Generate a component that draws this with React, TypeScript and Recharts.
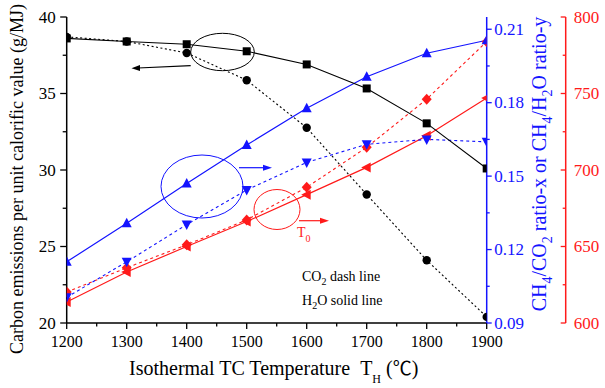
import { ComposedChart, Line, XAxis, YAxis } from "recharts";

const temps = [1200, 1300, 1400, 1500, 1600, 1700, 1800, 1900];
// carbon emissions per unit calorific value (g/MJ)
const carbonH2O = [38.6, 38.4, 38.22, 37.76, 36.9, 35.33, 33.05, 30.1];
const carbonCO2 = [38.7, 38.4, 37.65, 35.87, 32.76, 28.4, 24.1, 20.4];
// CH4/H2O ratio-y and CH4/CO2 ratio-x
const ratioH2O = [0.115, 0.1307, 0.147, 0.1627, 0.1777, 0.1906, 0.2002, 0.2055];
const ratioCO2 = [0.1005, 0.115, 0.1302, 0.1443, 0.1556, 0.163, 0.165, 0.164];
// T0
const t0H2O = [613.7, 633.3, 650, 666.3, 683.9, 701.7, 722.4, 747];
const t0CO2 = [620.2, 636.1, 651.1, 667.4, 688.7, 714.8, 746.3, 783.9];

const xTicks = [1200, 1250, 1300, 1350, 1400, 1450, 1500, 1550, 1600, 1650, 1700, 1750, 1800, 1850, 1900];
const leftTicks = [20, 22.5, 25, 27.5, 30, 32.5, 35, 37.5, 40];
const blueTicks = [0.09, 0.105, 0.12, 0.135, 0.15, 0.165, 0.18, 0.195, 0.21];
const redTicks = [600, 625, 650, 675, 700, 725, 750, 775, 800];

const rows = temps.map((t, i) => ({
  t,
  cH: carbonH2O[i],
  cC: carbonCO2[i],
  rH: ratioH2O[i],
  rC: ratioCO2[i],
  tH: t0H2O[i],
  tC: t0CO2[i],
}));

const FONT = "'Liberation Serif', 'Times New Roman', serif";
const BLUE = "#1414ff";
const RED = "#ff1a1a";

const square = (c: string) => (p: any) => (
  <rect key={`s${p.index}`} x={p.cx - 4} y={p.cy - 4} width={8} height={8} fill={c} />
);
const circle = (c: string) => (p: any) => (
  <circle key={`c${p.index}`} cx={p.cx} cy={p.cy} r={4.2} fill={c} />
);
const triUp = (c: string) => (p: any) => (
  <polygon key={`u${p.index}`} points={`${p.cx},${p.cy - 5.5} ${p.cx - 5},${p.cy + 4} ${p.cx + 5},${p.cy + 4}`} fill={c} />
);
const triDown = (c: string) => (p: any) => (
  <polygon key={`d${p.index}`} points={`${p.cx},${p.cy + 5.5} ${p.cx - 5},${p.cy - 4} ${p.cx + 5},${p.cy - 4}`} fill={c} />
);
const triLeft = (c: string) => (p: any) => (
  <polygon key={`l${p.index}`} points={`${p.cx - 5.5},${p.cy} ${p.cx + 4},${p.cy - 5} ${p.cx + 4},${p.cy + 5}`} fill={c} />
);
const diamond = (c: string) => (p: any) => (
  <polygon key={`m${p.index}`} points={`${p.cx},${p.cy - 5.5} ${p.cx + 5},${p.cy} ${p.cx},${p.cy + 5.5} ${p.cx - 5},${p.cy}`} fill={c} />
);

const XTick = (props: any) => {
  const { x, y, payload } = props;
  const major = payload.value % 100 === 0;
  return (
    <g>
      <line x1={x} x2={x} y1={y} y2={y + (major ? 6 : 3.5)} stroke="#000" strokeWidth={1.3} />
      {major && (
        <text x={x} y={y + 24} textAnchor="middle" fontSize={16} fontFamily={FONT} fill="#000">
          {payload.value}
        </text>
      )}
    </g>
  );
};

const LeftTick = (props: any) => {
  const { x, y, payload } = props;
  const major = payload.value % 5 === 0;
  return (
    <g>
      <line x1={x} x2={x - (major ? 6.5 : 4)} y1={y} y2={y} stroke="#000" strokeWidth={1.3} />
      {major && (
        <text x={x - 11} y={y} textAnchor="end" dominantBaseline="central" fontSize={17} fontFamily={FONT} fill="#000">
          {payload.value}
        </text>
      )}
    </g>
  );
};

const BlueTick = (props: any) => {
  const { x, y, payload } = props;
  const major = Math.round(payload.value * 1000) % 30 === 0;
  return (
    <g>
      <line x1={x} x2={x + (major ? 5 : 3)} y1={y} y2={y} stroke={BLUE} strokeWidth={1.3} />
      {major && (
        <text x={x + 7.5} y={y} dominantBaseline="central" fontSize={17} fontFamily={FONT} fill={BLUE}>
          {payload.value.toFixed(2)}
        </text>
      )}
    </g>
  );
};

const RedTick = (props: any) => {
  const { x, y, payload } = props;
  const major = payload.value % 50 === 0;
  return (
    <g>
      <line x1={x} x2={x - (major ? 5 : 3)} y1={y} y2={y} stroke={RED} strokeWidth={1.3} />
      {major && (
        <text x={x + 8} y={y} dominantBaseline="central" fontSize={17} fontFamily={FONT} fill={RED}>
          {payload.value}
        </text>
      )}
    </g>
  );
};

function Overlay() {
  return (
    <svg width={605} height={388} style={{ position: "absolute", left: 0, top: 0, pointerEvents: "none" }}>
      <g fontFamily={FONT}>
        <text transform="translate(22.5,179) rotate(-90)" textAnchor="middle" fontSize={18} fill="#000">
          Carbon emissions per unit calorific value (g/MJ)
        </text>
        <text x={129} y={375} fontSize={20} fill="#000">
          Isothermal TC Temperature{"\u00a0\u00a0"}T
          <tspan fontSize={12} dy={8}>H</tspan>
          <tspan dy={-8}>{"\u00a0"}(</tspan>
          <tspan fontFamily="'Noto Sans CJK SC', 'DejaVu Serif', serif" fontSize={19}>℃</tspan>
          <tspan>)</tspan>
        </text>
        <text transform="translate(546,164) rotate(-90)" textAnchor="middle" fontSize={20} fill={BLUE}>
          CH<tspan fontSize={14} dy={6}>4</tspan>
          <tspan dy={-6}>/CO</tspan>
          <tspan fontSize={14} dy={6}>2</tspan>
          <tspan dy={-6}> ratio-x or CH</tspan>
          <tspan fontSize={14} dy={6}>4</tspan>
          <tspan dy={-6}>/H</tspan>
          <tspan fontSize={14} dy={6}>2</tspan>
          <tspan dy={-6}>O ratio-y</tspan>
        </text>
        <text x={302} y={281} fontSize={14} fill="#000">
          CO<tspan fontSize={10} dy={4}>2</tspan>
          <tspan dy={-4}> dash line</tspan>
        </text>
        <text x={302} y={305} fontSize={14} fill="#000">
          H<tspan fontSize={10} dy={4}>2</tspan>
          <tspan dy={-4}>O solid line</tspan>
        </text>
        <text x={297} y={237} fontSize={14} fill={RED}>
          T<tspan fontSize={10} dy={5}>0</tspan>
        </text>
      </g>
      {/* annotation ellipses and arrows */}
      <ellipse cx={222.5} cy={52} rx={31.8} ry={18.7} fill="none" stroke="#000" strokeWidth={1} />
      <line x1={190.7} y1={65.7} x2={138} y2={68} stroke="#000" strokeWidth={1.2} />
      <polygon points="131.5,68.3 140,65 140,71" fill="#000" />
      <ellipse cx={202} cy={186.5} rx={41} ry={31.5} fill="none" stroke={BLUE} strokeWidth={1} />
      <line x1={239} y1={167.7} x2={265} y2={167.7} stroke={BLUE} strokeWidth={1.2} />
      <polygon points="272,167.7 263,164.7 263,170.7" fill={BLUE} />
      <ellipse cx={277} cy={209.5} rx={23} ry={20} fill="none" stroke={RED} strokeWidth={1} />
      <line x1={299} y1={220.7} x2={322} y2={220.7} stroke={RED} strokeWidth={1.2} />
      <polygon points="329,220.7 320,217.7 320,223.7" fill={RED} />
    </svg>
  );
}

export default function App() {
  return (
    <div style={{ position: "absolute", left: 0, top: 0, width: 605, height: 388, background: "#fff" }}>
      <ComposedChart width={605} height={388} data={rows} margin={{ top: 17, right: 0, bottom: 24, left: 0 }}>
        <XAxis
          dataKey="t"
          type="number"
          domain={[1200, 1900]}
          ticks={xTicks}
          interval={0}
          allowDataOverflow
          height={41}
          tickSize={0}
          tickMargin={0}
          tickLine={false}
          tick={<XTick />}
          axisLine={{ stroke: "#000", strokeWidth: 1.5 }}
        />
        <YAxis
          yAxisId="left"
          domain={[20, 40]}
          ticks={leftTicks}
          interval={0}
          width={66.7}
          tickSize={0}
          tickMargin={0}
          tickLine={false}
          tick={<LeftTick />}
          axisLine={{ stroke: "#000", strokeWidth: 1.5 }}
        />
        <YAxis
          yAxisId="blue"
          orientation="right"
          domain={[0.09, 0.215]}
          ticks={blueTicks}
          interval={0}
          width={79}
          tickSize={0}
          tickMargin={0}
          tickLine={false}
          tick={<BlueTick />}
          axisLine={{ stroke: BLUE, strokeWidth: 1.5 }}
        />
        <YAxis
          yAxisId="red"
          orientation="right"
          domain={[600, 800]}
          ticks={redTicks}
          interval={0}
          width={39.3}
          tickSize={0}
          tickMargin={0}
          tickLine={false}
          tick={<RedTick />}
          axisLine={{ stroke: RED, strokeWidth: 1.5 }}
        />
        <Line yAxisId="red" dataKey="tC" stroke={RED} strokeWidth={1.1} strokeDasharray="3 3" dot={diamond(RED)} isAnimationActive={false} />
        <Line yAxisId="red" dataKey="tH" stroke={RED} strokeWidth={1.2} dot={triLeft(RED)} isAnimationActive={false} />
        <Line yAxisId="blue" dataKey="rC" stroke={BLUE} strokeWidth={1.1} strokeDasharray="3 3" dot={triDown(BLUE)} isAnimationActive={false} />
        <Line yAxisId="blue" dataKey="rH" stroke={BLUE} strokeWidth={1.2} dot={triUp(BLUE)} isAnimationActive={false} />
        <Line yAxisId="left" dataKey="cC" stroke="#000" strokeWidth={1.1} strokeDasharray="2 2.5" dot={circle("#000")} isAnimationActive={false} />
        <Line yAxisId="left" dataKey="cH" stroke="#000" strokeWidth={1.1} dot={square("#000")} isAnimationActive={false} />
      </ComposedChart>
      <Overlay />
    </div>
  );
}
